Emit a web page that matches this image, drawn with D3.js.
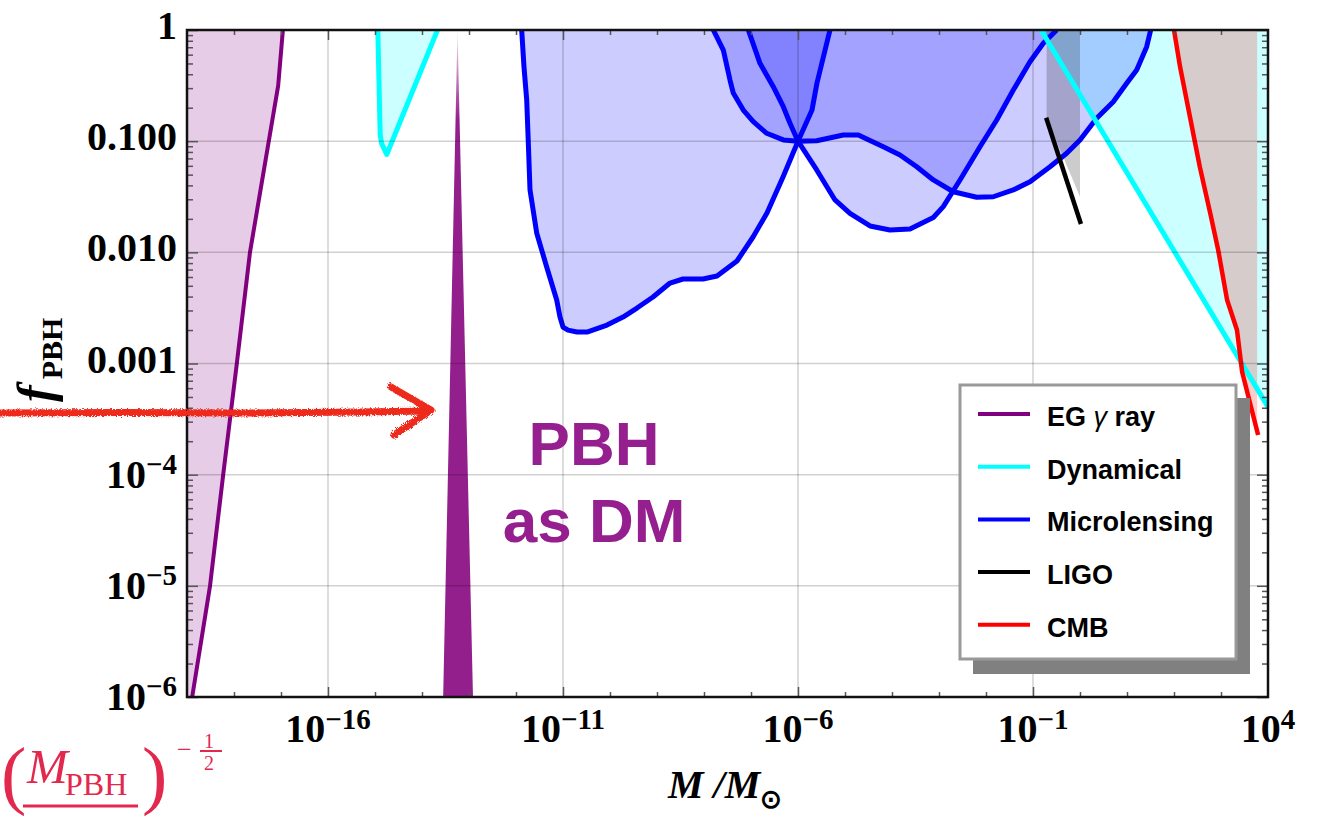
<!DOCTYPE html>
<html><head><meta charset="utf-8">
<script src="https://cdn.jsdelivr.net/npm/d3@7"></script>
<style>body{margin:0;background:#fff;} svg{display:block;}</style>
</head><body>
<svg id="chart" width="1319" height="816"></svg>
<script>
// ---------- data: [log10(M/Msun), log10(f_PBH)] ----------
const egGammaRay = [[-18.89,-6],[-18.51,-5],[-18.23,-4],[-17.94,-3],[-17.66,-2],[-17.26,-1],[-17.06,-0.5],[-16.96,0]];
const dynamicalSmall = [[-14.94,0],[-14.89,-0.94],[-14.86,-1.02],[-14.75,-1.12],[-13.67,0]];
const dynamicalLarge = [[-0.83,0],[4.0,-3.39]];
const microA = [[-11.879,0],[-11.83,-0.333],[-11.772,-0.63],[-11.738,-1.016],[-11.702,-1.439],[-11.56,-1.826],[-11.347,-2.132],[-11.134,-2.429],[-11.064,-2.582],[-11.0,-2.672],[-10.894,-2.70],[-10.702,-2.717],[-10.489,-2.717],[-10.064,-2.654],[-9.723,-2.582],[-9.426,-2.501],[-9.085,-2.402],[-8.723,-2.276],[-8.447,-2.24],[-8.021,-2.24],[-7.723,-2.213],[-7.298,-2.078],[-6.957,-1.862],[-6.66,-1.646],[-6.319,-1.322],[-6.0,-1.0],[-5.702,-0.72],[-5.596,-0.477],[-5.319,0]];
const microB = [[-7.802,0],[-7.589,-0.18],[-7.447,-0.45],[-7.377,-0.567],[-7.164,-0.72],[-6.951,-0.825],[-6.666,-0.929],[-6.313,-0.989],[-6.0,-1.0],[-5.602,-0.996],[-5.036,-0.944],[-4.717,-0.944],[-4.185,-1.05],[-3.83,-1.124],[-3.474,-1.23],[-3.121,-1.349],[-2.696,-1.455],[-2.198,-1.505],[-1.845,-1.5],[-1.419,-1.439],[-1.064,-1.365],[-0.638,-1.23],[-0.283,-1.109],[0.0,-0.989],[0.355,-0.794],[0.709,-0.645],[0.994,-0.479],[1.206,-0.36],[1.419,-0.15],[1.504,0]];
const microC = [[-7.057,0],[-6.809,-0.3],[-6.526,-0.51],[-6.313,-0.69],[-6.17,-0.839],[-6.0,-1.0],[-5.602,-1.259],[-5.213,-1.529],[-4.894,-1.649],[-4.468,-1.763],[-4.043,-1.799],[-3.617,-1.79],[-3.121,-1.687],[-2.909,-1.589],[-2.553,-1.349],[-2.128,-1.05],[-1.772,-0.81],[-1.419,-0.54],[-1.064,-0.285],[-0.781,-0.12],[-0.496,0]];
const ligoBand = [[-0.71,0],[0.0,0],[0.0,-1.5],[-0.71,-0.79]];
const ligoLine = [[-0.72,-0.79],[0.02,-1.745]];
const cmbLine = [[2.0,0],[2.13,-0.333],[2.34,-0.783],[2.55,-1.232],[2.77,-1.646],[2.94,-1.979],[3.13,-2.429],[3.34,-2.699],[3.45,-3.076],[3.79,-3.643]];
const cmbEdge = 3.77;
const pbhSpike = [[-13.245,0],[-12.915,-6],[-13.55,-6]];

const xDomainLog = [-19, 4];
const yDomainLog = [-6, 0];
const xMajorTicks = [-16,-11,-6,-1,4];
const xTickLabels = [["10","−16"],["10","−11"],["10","−6"],["10","−1"],["10","4"]];
const yMajorTicks = [0,-1,-2,-3,-4,-5,-6];
const yTickLabels = [["1",""],["0.100",""],["0.010",""],["0.001",""],["10","−4"],["10","−5"],["10","−6"]];
const legendNames = ["EG γ ray","Dynamical","Microlensing","LIGO","CMB"];
const legendColors = ["#800080","#00ffff","#0000ff","#000000","#ff0000"];

(function () {
const L = 187, R = 1268, T = 30, B = 697;
const svg = d3.select("#chart");
const x = d3.scaleLog().domain(xDomainLog.map(v => Math.pow(10, v))).range([L, R]);
const y = d3.scaleLog().domain(yDomainLog.map(v => Math.pow(10, v))).range([B, T]);
const px = d => x(Math.pow(10, d[0]));
const py = d => y(Math.pow(10, d[1]));
const line = d3.line().x(px).y(py);

const defs = svg.append("defs");
defs.append("clipPath").attr("id", "plotclip").append("rect")
  .attr("x", L).attr("y", T).attr("width", R - L).attr("height", B - T);
const grad = defs.append("linearGradient").attr("id", "spikeGrad")
  .attr("gradientUnits", "userSpaceOnUse").attr("x1", 0).attr("y1", T).attr("x2", 0).attr("y2", T + 90);
grad.append("stop").attr("offset", 0).attr("stop-color", "#f4e4f3");
grad.append("stop").attr("offset", 1).attr("stop-color", "#931f8c");
const rough = defs.append("filter").attr("id", "rough").attr("x", "-5%").attr("y", "-50%").attr("width", "110%").attr("height", "200%");
rough.append("feTurbulence").attr("type", "fractalNoise").attr("baseFrequency", 1.2).attr("numOctaves", 2).attr("result", "noise");
rough.append("feDisplacementMap").attr("in", "SourceGraphic").attr("in2", "noise").attr("scale", 5);

const plot = svg.append("g").attr("clip-path", "url(#plotclip)");

// ---------- fills ----------
const fTop = yDomainLog[1], leftE = xDomainLog[0], rightE = xDomainLog[1];
plot.append("path").attr("d", line([[leftE, fTop], [leftE, yDomainLog[0]], ...egGammaRay]) + "Z")
  .attr("fill", "#800080").attr("fill-opacity", 0.2);
plot.append("path").attr("d", line(dynamicalSmall) + "Z").attr("fill", "#00ffff").attr("fill-opacity", 0.2);
plot.append("path").attr("d", line([...dynamicalLarge, [rightE, fTop]]) + "Z").attr("fill", "#00ffff").attr("fill-opacity", 0.2);
[microA, microB, microC].forEach(c => {
  plot.append("path").attr("d", line(c) + "Z").attr("fill", "#0000ff").attr("fill-opacity", 0.2);
});
plot.append("path").attr("d", line(ligoBand) + "Z").attr("fill", "#000").attr("fill-opacity", 0.2);
plot.append("path").attr("d", line([...cmbLine, [cmbEdge, cmbLine[cmbLine.length - 1][1] + 0.05], [cmbEdge, fTop]]) + "Z")
  .attr("fill", "#ff0000").attr("fill-opacity", 0.2);

// ---------- grid ----------
const grid = svg.append("g").attr("stroke", "#000").attr("stroke-opacity", 0.18).attr("stroke-width", 1.5);
xMajorTicks.filter(t => t < rightE).forEach(t => {
  grid.append("line").attr("x1", x(Math.pow(10, t))).attr("x2", x(Math.pow(10, t))).attr("y1", T).attr("y2", B);
});
yMajorTicks.filter(t => t > yDomainLog[0] && t < fTop).forEach(t => {
  grid.append("line").attr("y1", y(Math.pow(10, t))).attr("y2", y(Math.pow(10, t))).attr("x1", L).attr("x2", R);
});

// ---------- lines ----------
const strokeLine = (data, color, w) => plot.append("path").attr("d", line(data))
  .attr("fill", "none").attr("stroke", color).attr("stroke-width", w).attr("stroke-linejoin", "round");
strokeLine(egGammaRay, "#800080", 4);
strokeLine(dynamicalSmall, "#00ffff", 5);
[microA, microB, microC].forEach(c => strokeLine(c, "#0000ff", 5));
strokeLine(dynamicalLarge, "#00ffff", 5);
strokeLine(ligoLine, "#000", 4.5);
strokeLine(cmbLine, "#ff0000", 4.5);

plot.append("path").attr("d", line(pbhSpike) + "Z").attr("fill", "url(#spikeGrad)");

// ---------- axes ticks ----------
const decadesX = d3.range(xDomainLog[0] + 1, xDomainLog[1]).filter(v => !xMajorTicks.includes(v)).map(v => Math.pow(10, v));
const majX = xMajorTicks.filter(v => v < rightE).map(v => Math.pow(10, v));
const minorY = [];
for (let e = yDomainLog[0]; e < yDomainLog[1]; e++) for (let k = 2; k <= 9; k++) minorY.push(k * Math.pow(10, e));
const majY = yMajorTicks.map(v => Math.pow(10, v));

function styleAxis(g) {
  g.select(".domain").remove();
  g.selectAll(".tick line").attr("stroke", "#555").attr("stroke-width", 1.5);
}
svg.append("g").attr("transform", `translate(0,${B})`).call(d3.axisBottom(x).tickValues(decadesX).tickSize(-5).tickFormat("")).call(styleAxis);
svg.append("g").attr("transform", `translate(0,${B})`).call(d3.axisBottom(x).tickValues(majX).tickSize(-10).tickFormat("")).call(styleAxis);
svg.append("g").attr("transform", `translate(0,${T})`).call(d3.axisTop(x).tickValues(decadesX).tickSize(-5).tickFormat("")).call(styleAxis);
svg.append("g").attr("transform", `translate(0,${T})`).call(d3.axisTop(x).tickValues(majX).tickSize(-10).tickFormat("")).call(styleAxis);
svg.append("g").attr("transform", `translate(${L},0)`).call(d3.axisLeft(y).tickValues(minorY).tickSize(-6).tickFormat("")).call(styleAxis);
svg.append("g").attr("transform", `translate(${L},0)`).call(d3.axisLeft(y).tickValues(majY).tickSize(-11).tickFormat("")).call(styleAxis);
svg.append("g").attr("transform", `translate(${R},0)`).call(d3.axisRight(y).tickValues(minorY).tickSize(-6).tickFormat("")).call(styleAxis);
svg.append("g").attr("transform", `translate(${R},0)`).call(d3.axisRight(y).tickValues(majY).tickSize(-11).tickFormat("")).call(styleAxis);

svg.append("rect").attr("x", L).attr("y", T).attr("width", R - L).attr("height", B - T)
  .attr("fill", "none").attr("stroke", "#111").attr("stroke-width", 2.5);

// ---------- tick labels ----------
const serif = "'Liberation Serif','Times New Roman',serif";
xMajorTicks.forEach((t, i) => {
  const tx = svg.append("text").attr("x", x(Math.pow(10, t))).attr("y", 742)
    .attr("text-anchor", "middle").attr("font-family", serif).attr("font-weight", "bold").attr("font-size", 40);
  tx.append("tspan").text(xTickLabels[i][0]);
  tx.append("tspan").attr("font-size", 29).attr("dy", -13).text(xTickLabels[i][1]);
});
yMajorTicks.forEach((t, i) => {
  const [base, sup] = yTickLabels[i];
  const yy = y(Math.pow(10, t));
  const tx = svg.append("text").attr("x", 177).attr("y", yy + (sup ? 13 : 9))
    .attr("text-anchor", "end").attr("font-family", serif).attr("font-weight", "bold").attr("font-size", 40);
  tx.append("tspan").text(base);
  if (sup) tx.append("tspan").attr("font-size", 29).attr("dy", -14).text(sup);
});

const xt = svg.append("text").attr("x", 668).attr("y", 798).attr("font-family", serif)
  .attr("font-weight", "bold").attr("font-size", 40);
xt.append("tspan").attr("font-style", "italic").text("M /M");
xt.append("tspan").attr("font-size", 26).attr("dy", 10).text("⊙");

const yt = svg.append("text").attr("transform", "translate(52,402) rotate(-90)")
  .attr("font-family", serif).attr("font-weight", "bold").attr("font-size", 50);
yt.append("tspan").attr("font-style", "italic").text("f");
yt.append("tspan").attr("font-size", 30).attr("dy", 10).attr("dx", 6).text("PBH");

// ---------- PBH as DM text ----------
const sans = "'Liberation Sans',Arial,sans-serif";
svg.append("text").attr("x", 594).attr("y", 465).attr("text-anchor", "middle")
  .attr("font-family", sans).attr("font-weight", "bold").attr("font-size", 62).attr("fill", "#951f8f").text("PBH");
svg.append("text").attr("x", 594).attr("y", 542).attr("text-anchor", "middle")
  .attr("font-family", sans).attr("font-weight", "bold").attr("font-size", 62).attr("fill", "#951f8f").text("as DM");

// ---------- legend ----------
svg.append("rect").attr("x", 973).attr("y", 398).attr("width", 277).attr("height", 276).attr("fill", "#808080");
svg.append("rect").attr("x", 960).attr("y", 385).attr("width", 276).attr("height", 274)
  .attr("fill", "#fff").attr("stroke", "#999").attr("stroke-width", 3);
legendNames.forEach((name, i) => {
  const ly = 414 + i * 52.7;
  svg.append("line").attr("x1", 978).attr("x2", 1030).attr("y1", ly).attr("y2", ly)
    .attr("stroke", legendColors[i]).attr("stroke-width", 4);
  const t = svg.append("text").attr("x", 1047).attr("y", ly + 12).attr("font-family", sans)
    .attr("font-weight", "bold").attr("font-size", 27).attr("fill", "#000");
  if (name.includes("γ")) {
    t.append("tspan").text("EG ");
    t.append("tspan").attr("font-style", "italic").attr("font-weight", "normal").text("γ");
    t.append("tspan").text(" ray");
  } else t.text(name);
});

// ---------- annotations (red) ----------
const arrow = svg.append("g").attr("filter", "url(#rough)").attr("stroke", "#ee2a1a").attr("fill", "none")
  .attr("stroke-linecap", "round").attr("stroke-linejoin", "round");
arrow.append("path").attr("d", "M0,413 L120,412.5 L250,413 L360,412 L428,411").attr("stroke-width", 7);
arrow.append("path").attr("d", "M391,387 L431,410 L394,435").attr("stroke-width", 7);

const red = "#e3284d";
svg.append("text").attr("x", 1).attr("y", 800).attr("font-family", serif).attr("font-size", 76).attr("fill", red).text("(");
svg.append("text").attr("x", 27).attr("y", 783).attr("font-family", serif).attr("font-style", "italic").attr("font-size", 49).attr("fill", red).text("M");
svg.append("text").attr("x", 65).attr("y", 795).attr("font-family", serif).attr("font-size", 32).attr("fill", red).text("PBH");
svg.append("line").attr("x1", 23).attr("x2", 138).attr("y1", 806).attr("y2", 806).attr("stroke", red).attr("stroke-width", 3);
svg.append("text").attr("x", 142).attr("y", 800).attr("font-family", serif).attr("font-size", 76).attr("fill", red).text(")");
svg.append("text").attr("x", 177).attr("y", 758).attr("font-family", serif).attr("font-size", 26).attr("fill", red).text("−");
svg.append("text").attr("x", 204).attr("y", 748).attr("font-family", serif).attr("font-size", 20).attr("fill", red).text("1");
svg.append("line").attr("x1", 200).attr("x2", 222).attr("y1", 751).attr("y2", 751).attr("stroke", red).attr("stroke-width", 2);
svg.append("text").attr("x", 204).attr("y", 770).attr("font-family", serif).attr("font-size", 20).attr("fill", red).text("2");
})();
</script>
</body></html>
